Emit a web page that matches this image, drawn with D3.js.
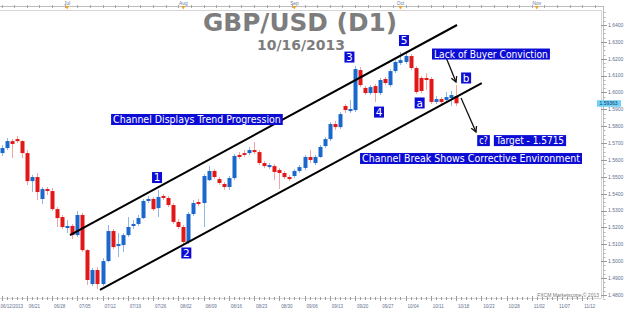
<!DOCTYPE html>
<html>
<head>
<meta charset="utf-8">
<script src="https://cdn.jsdelivr.net/npm/d3@7"></script>
<style>
body { margin: 0; background: #fff; }
svg { display: block; }
</style>
</head>
<body>
<script>
// GBP/USD daily candles 06/12/2013 - 10/16/2013
var open = [1.5641,1.5671,1.5712,1.5724,1.5712,1.5641,1.5475,1.5499,1.5369,1.5428,
  1.5416,1.5309,1.5262,1.5197,1.5209,1.5155,1.5274,1.5066,1.4865,1.4948,
  1.4865,1.5001,1.5179,1.5090,1.5096,1.5155,1.5209,1.5221,1.5256,1.5357,
  1.5369,1.5315,1.5387,1.5375,1.5333,1.5233,1.5203,1.5114,1.5280,1.5351,
  1.5345,1.5481,1.5535,1.5487,1.5458,1.5440,1.5493,1.5630,1.5641,1.5641,
  1.5659,1.5647,1.5582,1.5558,1.5564,1.5541,1.5523,1.5499,1.5505,1.5535,
  1.5553,1.5618,1.5582,1.5618,1.5683,1.5724,1.5813,1.5795,1.5920,1.5890,
  1.5896,1.6133,1.6027,1.5997,1.6038,1.5997,1.6080,1.6044,1.6127,1.6175,
  1.6181,1.6216,1.6145,1.6086,1.6086,1.6080,1.5944,1.5961,1.5956,1.5967,
  1.5979];
var close = [1.5671,1.5712,1.5695,1.5712,1.5641,1.5475,1.5499,1.5410,1.5428,1.5416,
  1.5309,1.5256,1.5203,1.5209,1.5155,1.5274,1.5066,1.4889,1.4948,1.4865,
  1.5001,1.5179,1.5084,1.5102,1.5155,1.5203,1.5221,1.5256,1.5357,1.5369,
  1.5309,1.5381,1.5375,1.5333,1.5233,1.5203,1.5114,1.5280,1.5345,1.5339,
  1.5505,1.5535,1.5499,1.5464,1.5440,1.5493,1.5624,1.5618,1.5630,1.5659,
  1.5647,1.5582,1.5564,1.5570,1.5529,1.5523,1.5499,1.5487,1.5535,1.5558,
  1.5618,1.5600,1.5618,1.5677,1.5724,1.5813,1.5795,1.5872,1.5896,1.5902,
  1.6139,1.6044,1.5997,1.6032,1.5997,1.6074,1.6056,1.6127,1.6181,1.6192,
  1.6216,1.6145,1.6003,1.6009,1.6074,1.5944,1.5961,1.5944,1.5973,1.5985,
  1.5936];
var high = [1.5689,1.5730,1.5724,1.5742,1.5718,1.5659,1.5511,1.5523,1.5440,1.5440,
  1.5434,1.5321,1.5274,1.5244,1.5221,1.5298,1.5286,1.5072,1.4960,1.4966,
  1.5019,1.5215,1.5191,1.5167,1.5167,1.5262,1.5244,1.5274,1.5369,1.5387,
  1.5381,1.5422,1.5398,1.5387,1.5345,1.5250,1.5215,1.5292,1.5363,1.5369,
  1.5517,1.5564,1.5547,1.5499,1.5470,1.5505,1.5636,1.5647,1.5659,1.5677,
  1.5706,1.5659,1.5594,1.5582,1.5576,1.5552,1.5535,1.5511,1.5547,1.5570,
  1.5630,1.5659,1.5630,1.5689,1.5736,1.5825,1.5831,1.5884,1.5932,1.5956,
  1.6157,1.6151,1.6038,1.6044,1.6050,1.6086,1.6092,1.6139,1.6192,1.6240,
  1.6234,1.6228,1.6157,1.6098,1.6115,1.6092,1.5979,1.5973,1.6003,1.6009,
  1.6044];
var low = [1.5624,1.5659,1.5612,1.5701,1.5612,1.5452,1.5410,1.5363,1.5339,1.5392,
  1.5298,1.5203,1.5191,1.5167,1.5132,1.5144,1.5055,1.4859,1.4853,1.4835,
  1.4853,1.4995,1.5072,1.5025,1.5055,1.5144,1.5191,1.5209,1.5250,1.5345,
  1.5298,1.5262,1.5363,1.5321,1.5221,1.5191,1.5102,1.5102,1.5268,1.5327,
  1.5203,1.5475,1.5487,1.5452,1.5422,1.5422,1.5481,1.5606,1.5618,1.5630,
  1.5636,1.5570,1.5552,1.5547,1.5481,1.5428,1.5487,1.5475,1.5493,1.5523,
  1.5541,1.5582,1.5570,1.5612,1.5671,1.5712,1.5778,1.5784,1.5878,1.5878,
  1.5884,1.6032,1.5985,1.5985,1.5944,1.5985,1.6044,1.6032,1.6115,1.6163,
  1.6169,1.6133,1.5991,1.5997,1.6015,1.5932,1.5932,1.5920,1.5938,1.5920,
  1.5920];
var lastPrice = 1.59363;

// bottom axis labels and the bar slot each one sits on
var dateLabels = ["06/12/2013","06/21","06/28","07/05","07/12","07/19","07/26","08/02",
  "08/09","08/16","08/23","08/30","09/06","09/13","09/20","09/27","10/04","10/11",
  "10/18","10/23","10/28","11/02","11/07","11/12"];
var dateSlots = [0,7,12,17,22,27,32,37,42,47,52,57,62,67,72,77,82,87,92,97,102,107,112,117];
var months = ["Jul","Aug","Sep","Oct","Nov"];
var monthSlots = [13,36,58,79,106];
var priceTicks = [1.48,1.49,1.50,1.51,1.52,1.53,1.54,1.55,1.56,1.57,1.58,1.59,1.60,1.61,1.62,1.63,1.64];

// annotations in chart units (bar slot, price)
var channelUpper = [[13.56, 1.5155], [90.2, 1.6400]];
var channelLower = [[19.5, 1.4830], [95.1, 1.6056]];
var waves = ["1","2","3","4","5","a","b"];
var waveSlots = [30.8, 36.6, 68.9, 74.75, 79.7, 82.8, 92.0];
var wavePrices = [1.5496, 1.5049, 1.6210, 1.5884, 1.6308, 1.5938, 1.6086];
var notes = [
  {t: "Channel Displays Trend Progression", s0: 21.7, s1: 55.7, p: 1.5840},
  {t: "Lack of Buyer Conviction", s0: 85.25, s1: 108.6, p: 1.6228},
  {t: "c?", s0: 94.2, s1: 96.7, p: 1.5715},
  {t: "Target - 1.5715", s0: 97.5, s1: 111.8, p: 1.5715},
  {t: "Channel Break Shows Corrective Environment", s0: 71.0, s1: 114.95, p: 1.5609}
];
var arrows = [
  [[88.0, 1.6210], [90.0, 1.6062]],
  [[91.0, 1.5967], [93.96, 1.5766]]
];

var width = 624, height = 311;
var plotRight = 601, plotTop = 10, plotBottom = 298;
var axisFont = "'Liberation Sans', Arial, sans-serif";

var svg = d3.select("body").append("svg")
  .attr("width", width)
  .attr("height", height)
  .style("font-family", "'DejaVu Sans', Verdana, sans-serif");

var x = d3.scaleLinear().domain([0, 117]).range([1.5, 1.5 + 117 * 5.05]);
var y = d3.scaleLinear().domain([1.48, 1.64]).range([295, 25]);

// frame
svg.append("line").attr("x1", 0).attr("x2", 604).attr("y1", 6.5).attr("y2", 6.5)
  .attr("stroke", "#bdbdbd");
svg.append("path")
  .attr("d", "M0," + (plotTop + 0.5) + "H" + (plotRight + 0.5) + "V" + (plotBottom + 0.5) + "H0")
  .attr("fill", "none").attr("stroke", "#d6d6d6");
svg.append("line").attr("x1", 603.5).attr("x2", 603.5).attr("y1", 6).attr("y2", plotBottom + 0.5)
  .attr("stroke", "#bdbdbd");

// top axis: small ticks + month markers
var topTicks = d3.range(0, 118, 2.5);
svg.selectAll(".tt").data(topTicks).enter().append("line")
  .attr("x1", function(d) { return Math.round(x(d)) + 0.5; })
  .attr("x2", function(d) { return Math.round(x(d)) + 0.5; })
  .attr("y1", 5).attr("y2", 8)
  .attr("stroke", "#a8a8a8");
svg.selectAll(".mk").data(monthSlots).enter().append("path")
  .attr("d", function(d) {
    var cx = x(d);
    return "M" + (cx - 2) + ",6L" + (cx + 2) + ",6L" + cx + ",9.5Z";
  })
  .attr("fill", "#f3a21c");
svg.selectAll(".ml").data(months).enter().append("text")
  .attr("x", function(d, i) { return x(monthSlots[i]); })
  .attr("y", 4.5)
  .attr("text-anchor", "middle")
  .attr("font-family", axisFont)
  .attr("font-size", "4.8px")
  .attr("fill", "#6a7a98")
  .text(function(d) { return d; });

// bottom axis
var bottomTicks = d3.range(0, 118);
svg.selectAll(".bt").data(bottomTicks).enter().append("line")
  .attr("x1", function(d) { return Math.round(x(d)) + 0.5; })
  .attr("x2", function(d) { return Math.round(x(d)) + 0.5; })
  .attr("y1", function(d) { return d % 5 === 0 ? 296 : 297; })
  .attr("y2", function(d) { return d % 5 === 0 ? 301 : 300; })
  .attr("stroke", "#9a9a9a");
svg.selectAll(".bl").data(dateLabels).enter().append("text")
  .attr("x", function(d, i) { return i === 0 ? 0.5 : x(dateSlots[i] - 2) + 2; })
  .attr("y", 308)
  .attr("font-family", axisFont)
  .attr("font-size", "4.5px")
  .attr("fill", "#5f6f90")
  .text(function(d) { return d; });

// right price axis
var minorP = d3.range(1.4775, 1.6476, 0.0025);
svg.selectAll(".rm").data(minorP).enter().append("line")
  .attr("x1", 603.5).attr("x2", 605.5)
  .attr("y1", function(d) { return Math.round(y(d)) + 0.5; })
  .attr("y2", function(d) { return Math.round(y(d)) + 0.5; })
  .attr("stroke", "#b5b5b5");
svg.selectAll(".rt").data(priceTicks).enter().append("line")
  .attr("x1", 601).attr("x2", 607)
  .attr("y1", function(d) { return Math.round(y(d)) + 0.5; })
  .attr("y2", function(d) { return Math.round(y(d)) + 0.5; })
  .attr("stroke", "#9a9a9a");
svg.selectAll(".rl").data(priceTicks).enter().append("text")
  .attr("x", 608)
  .attr("y", function(d) { return y(d) + 1.8; })
  .attr("font-family", axisFont)
  .attr("font-size", "5px")
  .attr("fill", "#5f6f90")
  .text(function(d) { return d.toFixed(4); });
svg.append("rect")
  .attr("x", 597).attr("y", y(lastPrice) - 3)
  .attr("width", 24).attr("height", 6.5)
  .attr("fill", "#6fd0f5");
svg.append("text")
  .attr("x", 599.5).attr("y", y(lastPrice) + 2)
  .attr("font-family", axisFont)
  .attr("font-size", "5px")
  .attr("fill", "#1c3c6c")
  .text(lastPrice.toFixed(5));

svg.append("text")
  .attr("x", 599).attr("y", 297)
  .attr("text-anchor", "end")
  .attr("font-family", axisFont)
  .attr("font-size", "5px")
  .attr("fill", "#777")
  .text("FXCM Marketscope \u00a9 2013");

// title
svg.append("text")
  .attr("x", 203).attr("y", 30.5)
  .attr("font-size", "24.5px").attr("font-weight", "bold")
  .attr("fill", "#7d7d7d")
  .attr("textLength", 194).attr("lengthAdjust", "spacingAndGlyphs")
  .text("GBP/USD (D1)");
svg.append("text")
  .attr("x", 257).attr("y", 50)
  .attr("font-size", "14px").attr("font-weight", "bold")
  .attr("fill", "#7d7d7d")
  .attr("textLength", 88).attr("lengthAdjust", "spacingAndGlyphs")
  .text("10/16/2013");

// candles
var bars = d3.range(open.length);
var plot = svg.append("g");
plot.selectAll(".wick").data(bars).enter().append("line")
  .attr("x1", function(i) { return Math.round(x(i)) + 0.5; })
  .attr("x2", function(i) { return Math.round(x(i)) + 0.5; })
  .attr("y1", function(i) { return y(high[i]); })
  .attr("y2", function(i) { return y(low[i]); })
  .attr("stroke", function(i) { return close[i] >= open[i] ? "#8fb6e6" : "#f2a3a3"; });
plot.selectAll(".body").data(bars).enter().append("rect")
  .attr("x", function(i) { return Math.round(x(i)) - 1.5; })
  .attr("width", 4)
  .attr("y", function(i) { return y(Math.max(open[i], close[i])); })
  .attr("height", function(i) { return Math.max(1.5, Math.abs(y(open[i]) - y(close[i]))); })
  .attr("fill", function(i) { return close[i] >= open[i] ? "#1a68cc" : "#e21818"; });

// channel lines
var line = d3.line().x(function(d) { return x(d[0]); }).y(function(d) { return y(d[1]); });
[channelUpper, channelLower].forEach(function(c) {
  svg.append("path").attr("d", line(c))
    .attr("stroke", "#000").attr("stroke-width", 2).attr("fill", "none");
});

// arrows
arrows.forEach(function(a) {
  var x1 = x(a[0][0]), y1 = y(a[0][1]), x2 = x(a[1][0]), y2 = y(a[1][1]);
  var ang = Math.atan2(y2 - y1, x2 - x1), L = 6;
  svg.append("line").attr("x1", x1).attr("y1", y1).attr("x2", x2).attr("y2", y2)
    .attr("stroke", "#111").attr("stroke-width", 1.3);
  svg.append("path")
    .attr("d", "M" + (x2 - L * Math.cos(ang - 0.5)) + "," + (y2 - L * Math.sin(ang - 0.5)) +
      "L" + x2 + "," + y2 +
      "L" + (x2 - L * Math.cos(ang + 0.5)) + "," + (y2 - L * Math.sin(ang + 0.5)))
    .attr("stroke", "#111").attr("stroke-width", 1.3).attr("fill", "none");
});

// wave count boxes
var wg = svg.selectAll(".wave").data(waves).enter().append("g");
wg.append("rect")
  .attr("x", function(d, i) { return x(waveSlots[i]) - 5; })
  .attr("y", function(d, i) { return y(wavePrices[i]) - 5.5; })
  .attr("width", 10).attr("height", 11)
  .attr("fill", "#0c0cd4");
wg.append("text")
  .attr("x", function(d, i) { return x(waveSlots[i]); })
  .attr("y", function(d, i) { return y(wavePrices[i]) + 3.8; })
  .attr("text-anchor", "middle")
  .attr("font-size", "10.5px")
  .attr("fill", "#fff")
  .text(function(d) { return d; });

// text boxes
var ng = svg.selectAll(".note").data(notes).enter().append("g");
ng.append("rect")
  .attr("x", function(d) { return x(d.s0); })
  .attr("y", function(d) { return y(d.p) - 5.5; })
  .attr("width", function(d) { return x(d.s1) - x(d.s0); })
  .attr("height", 11)
  .attr("fill", "#0c0cd4");
ng.append("text")
  .attr("x", function(d) { return x(d.s0) + 2; })
  .attr("y", function(d) { return y(d.p) + 3.5; })
  .attr("font-size", "10px")
  .attr("fill", "#fff")
  .attr("textLength", function(d) { return x(d.s1) - x(d.s0) - 4; })
  .attr("lengthAdjust", "spacingAndGlyphs")
  .text(function(d) { return d.t; });
</script>
</body>
</html>
